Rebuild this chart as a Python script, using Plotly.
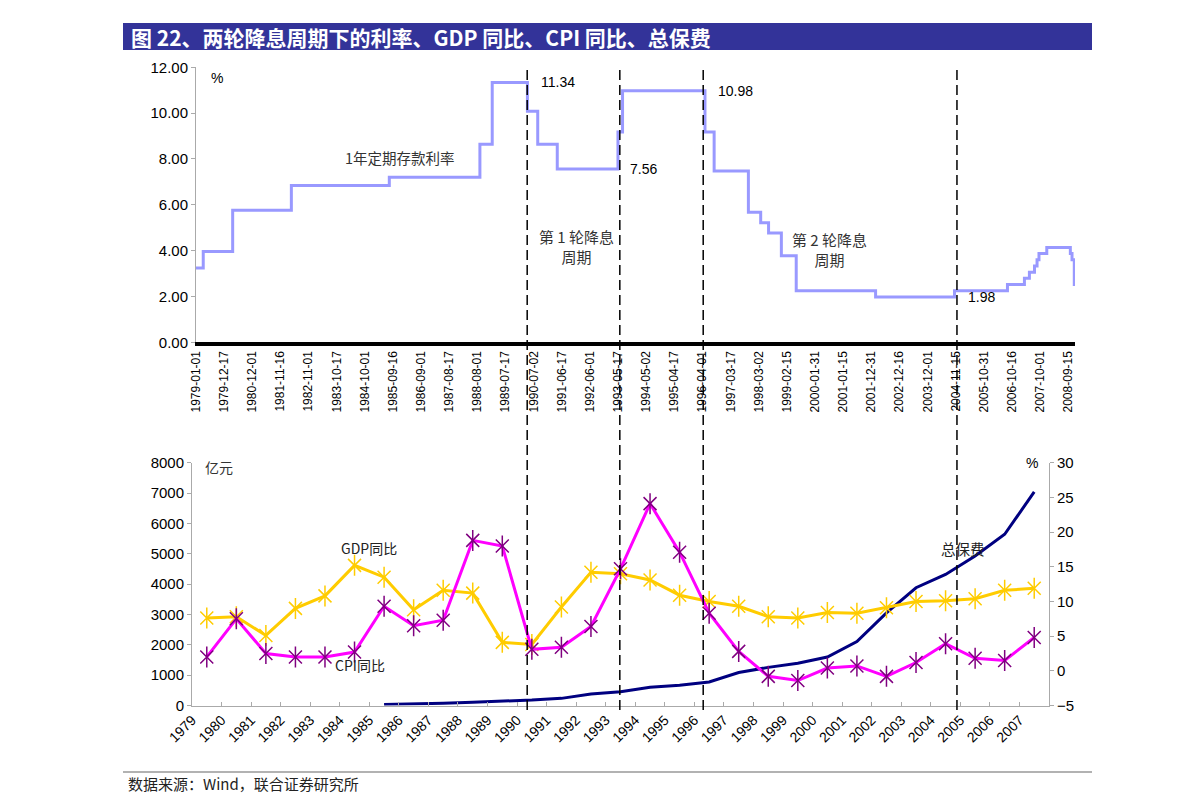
import plotly.graph_objects as go

# ---- data ----
# 1-year deposit rate (%), step changes
rate_dates = ['1979-01-01', '1979-04-01', '1980-04-01', '1982-04-01', '1985-08-01',
              '1988-09-01', '1989-02-01', '1990-04-15', '1990-08-21', '1991-04-21',
              '1993-05-15', '1993-07-11', '1996-05-01', '1996-08-23', '1997-10-23',
              '1998-03-25', '1998-07-01', '1998-12-07', '1999-06-10', '2002-02-21',
              '2004-10-29', '2006-08-19', '2007-03-18', '2007-05-19', '2007-07-21',
              '2007-08-22', '2007-09-15', '2007-12-21', '2008-10-09', '2008-10-30',
              '2008-11-27', '2008-12-06']
rate_vals = [3.24, 3.96, 5.76, 6.84, 7.20, 8.64, 11.34, 10.08, 8.64, 7.56,
             9.18, 10.98, 9.18, 7.47, 5.67, 5.22, 4.77, 3.78, 2.25, 1.98,
             2.25, 2.52, 2.79, 3.06, 3.33, 3.60, 3.87, 4.14, 3.87, 3.60,
             2.52, 2.52]

# cycle boundaries (dashed lines)
cycle_dates = ['1990-04-12', '1993-06-07', '1996-04-09', '2004-11-29']

# labelled rate points: (label date, value)
rate_label_dates = ['1990-09-05', '1993-09-15', '1996-09-16', '2005-03-20']
rate_label_vals = [11.34, 7.56, 10.98, 1.98]

years = list(range(1979, 2008))
gdp_yoy = [7.6, 7.8, 5.1, 9.0, 10.8, 15.2, 13.5, 8.8, 11.6, 11.2, 4.1, 3.8, 9.2, 14.2,
           14.0, 13.1, 10.9, 10.0, 9.3, 7.8, 7.6, 8.4, 8.3, 9.1, 10.0, 10.1, 10.4, 11.6, 11.9]
cpi_yoy = [2.0, 7.5, 2.5, 2.0, 2.0, 2.7, 9.3, 6.5, 7.3, 18.8, 18.0, 3.1, 3.4, 6.4,
           14.7, 24.1, 17.1, 8.3, 2.8, -0.8, -1.4, 0.4, 0.7, -0.8, 1.2, 3.9, 1.8, 1.5, 4.8]
prem_years = list(range(1985, 2008))
premium = [33, 46, 71, 110, 142, 178, 235, 378, 450, 600, 670, 776, 1088, 1256, 1393,
           1596, 2109, 3054, 3880, 4318, 4927, 5641, 7036]

W, H = 1191, 812
OFF = 8  # page body margin
FONT = 'Liberation Sans, Arial, Noto Sans CJK SC'
CJK = 'Noto Sans CJK SC, Liberation Sans'


def px(x):
    return (x - OFF) / W


def py(y):
    return 1 - (y - OFF) / H


fig = go.Figure()

# top chart: deposit rate
fig.add_trace(go.Scatter(x=rate_dates, y=rate_vals, mode='lines', line_shape='hv',
                         line=dict(color='#9999FF', width=3), xaxis='x', yaxis='y',
                         showlegend=False))

# bottom chart
gold, mag, purple, navy = '#FFCC00', '#FF00FF', '#800080', '#000080'
fig.add_trace(go.Scatter(x=prem_years, y=premium, mode='lines',
                         line=dict(color=navy, width=3), xaxis='x2', yaxis='y2',
                         showlegend=False))
for vals, lc, mc in [(gdp_yoy, gold, gold), (cpi_yoy, mag, purple)]:
    fig.add_trace(go.Scatter(x=years, y=vals, mode='lines+markers',
                             line=dict(color=lc, width=3),
                             marker=dict(symbol='x-thin-open', size=13, color=mc,
                                         line=dict(color=mc, width=1.5)),
                             xaxis='x2', yaxis='y3', showlegend=False))
    fig.add_trace(go.Scatter(x=years, y=vals, mode='markers',
                             marker=dict(symbol='line-ns-open', size=15, color=mc,
                                         line=dict(color=mc, width=1.5)),
                             xaxis='x2', yaxis='y3', showlegend=False))

shapes = [
    dict(type='rect', xref='paper', yref='paper', x0=px(123), x1=px(1092),
         y0=py(50), y1=py(23), fillcolor='#333399', line=dict(width=0), layer='below'),
    dict(type='line', xref='paper', yref='paper', x0=px(123), x1=px(1092),
         y0=py(772), y1=py(772), line=dict(color='#999999', width=1.5)),
]
for d in cycle_dates:
    shapes.append(dict(type='line', xref='x', yref='paper', x0=d, x1=d,
                       y0=py(710), y1=py(65),
                       line=dict(color='black', width=1.5, dash='10px,5px')))

ann = [
    dict(text='<b>图 22、两轮降息周期下的利率、GDP 同比、CPI 同比、总保费</b>',
         xref='paper', yref='paper', x=px(129), y=py(37), xanchor='left',
         yanchor='middle', showarrow=False, font=dict(family=CJK, size=21, color='white')),
    dict(text='数据来源：Wind，联合证券研究所', xref='paper', yref='paper', x=px(126),
         y=py(783), xanchor='left', yanchor='middle', showarrow=False,
         font=dict(family=CJK, size=15, color='#222222')),
    dict(text='%', xref='paper', yref='paper', x=px(217), y=py(68), xanchor='center',
         showarrow=False, font=dict(family=FONT, size=14, color='black')),
    dict(text='1年定期存款利率', xref='x', yref='y', x='1985-12-09', y=8.08,
         showarrow=False, font=dict(family=CJK, size=14.5, color='#333333')),
    dict(text='第 1 轮降息<br>周期', xref='x', yref='y', x='1991-12-20', y=4.2,
         showarrow=False, font=dict(family=CJK, size=15, color='#333333')),
    dict(text='第 2 轮降息<br>周期', xref='x', yref='y', x='2000-08-02', y=4.05,
         showarrow=False, font=dict(family=CJK, size=15, color='#333333')),
    dict(text='亿元', xref='paper', yref='paper', x=px(219), y=py(467), xanchor='center',
         showarrow=False, font=dict(family=CJK, size=14, color='#333333')),
    dict(text='%', xref='paper', yref='paper', x=px(1032), y=py(463), xanchor='center',
         showarrow=False, font=dict(family=FONT, size=14, color='black')),
    dict(text='GDP同比', xref='x2', yref='y3', x=1984.5, y=17.7, showarrow=False,
         font=dict(family=CJK, size=14, color='#222222')),
    dict(text='CPI同比', xref='x2', yref='y3', x=1984.2, y=0.8, showarrow=False,
         font=dict(family=CJK, size=14, color='#222222')),
    dict(text='总保费', xref='x2', yref='y3', x=2004.6, y=17.7, showarrow=False,
         font=dict(family=CJK, size=14.5, color='#222222')),
]
for d, v in zip(rate_label_dates, rate_label_vals):
    ann.append(dict(text=f'{v:.2f}', xref='x', yref='y', x=d, y=v, xanchor='left',
                    yanchor='middle', showarrow=False,
                    font=dict(family=FONT, size=14, color='black')))

tickfont = dict(family=FONT, size=15, color='black')

fig.update_layout(
    width=W, height=H, autosize=False, margin=dict(l=0, r=0, t=0, b=0, pad=0),
    paper_bgcolor='white', plot_bgcolor='white',
    shapes=shapes, annotations=ann,
    xaxis=dict(domain=[px(196), px(1075)], type='date',
               range=['1979-01-01', '2008-12-06'],
               tick0='1979-01-01', dtick=350 * 86400000, tickformat='%Y-%m-%d',
               tickangle=-90, tickfont=dict(family=FONT, size=12, color='black'),
               showline=True, linecolor='black', linewidth=4, ticks='',
               showgrid=False, zeroline=False, anchor='y', automargin=False),
    yaxis=dict(domain=[py(342.3), py(67.3)], range=[0, 12], dtick=2,
               tickformat='.2f', tickfont=tickfont, showline=True,
               linecolor='#aaaaaa', linewidth=1, ticks='outside', ticklen=4,
               tickcolor='#aaaaaa', showgrid=False, zeroline=False, anchor='x',
               automargin=False),
    xaxis2=dict(domain=[px(192), px(1049)], range=[1978.5, 2007.5],
                tickvals=[y - 0.5 for y in years], ticktext=[str(y) for y in years],
                tickangle=-45, tickfont=dict(family=FONT, size=14, color='black'),
                showline=True, linecolor='#aaaaaa', linewidth=1, ticks='inside',
                ticklen=4, tickcolor='#aaaaaa', showgrid=False, zeroline=False,
                anchor='y2', automargin=False),
    yaxis2=dict(domain=[py(705.5), py(462.7)], range=[0, 8000], dtick=1000,
                tickfont=tickfont, showline=True, linecolor='#aaaaaa', linewidth=1,
                ticks='outside', ticklen=4, tickcolor='#aaaaaa', showgrid=False,
                zeroline=False, anchor='x2', automargin=False),
    yaxis3=dict(overlaying='y2', side='right', range=[-5, 30], dtick=5,
                tickfont=tickfont, showline=True, linecolor='#aaaaaa', linewidth=1,
                ticks='outside', ticklen=4, tickcolor='#aaaaaa', showgrid=False,
                zeroline=False, anchor='x2', automargin=False),
)

fig.write_html('out.html')
